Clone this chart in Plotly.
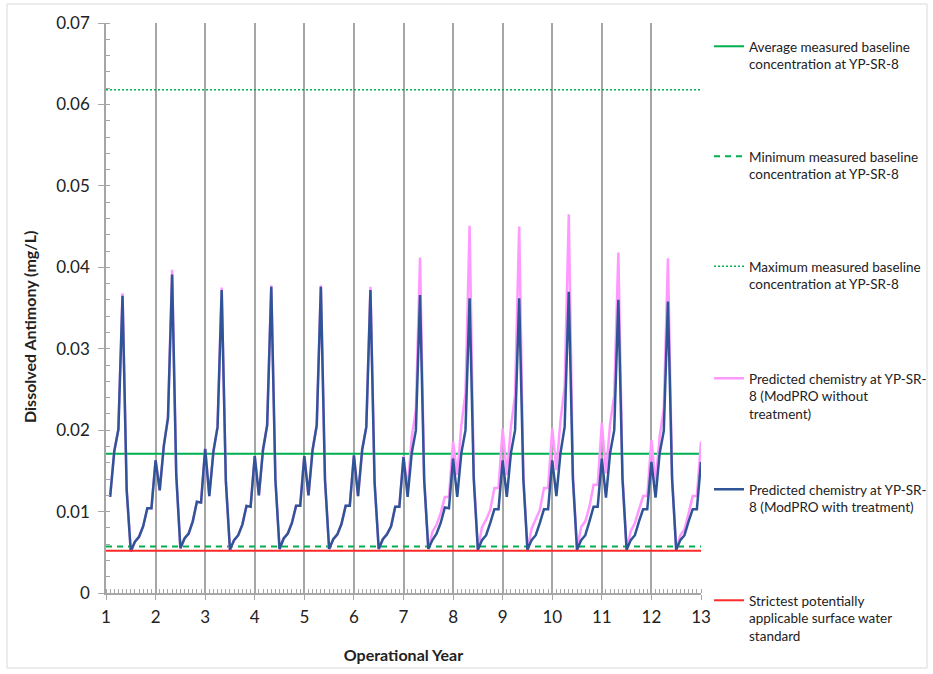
import plotly.graph_objects as go

# monthly values, 12 per operational year (x = year + month/12)
with_treatment = [
    [0.0118, 0.0174, 0.0201, 0.0365, 0.0127, 0.0051, 0.0063, 0.0069, 0.0082, 0.0104, 0.0104, 0.0163],
    [0.0126, 0.0181, 0.0215, 0.0391, 0.0145, 0.0055, 0.0067, 0.0073, 0.0088, 0.0112, 0.0111, 0.0177],
    [0.0119, 0.0174, 0.0204, 0.0372, 0.0138, 0.0053, 0.0065, 0.0071, 0.0084, 0.0107, 0.0106, 0.0168],
    [0.0120, 0.0176, 0.0206, 0.0376, 0.0139, 0.0054, 0.0067, 0.0073, 0.0086, 0.0107, 0.0107, 0.0168],
    [0.0120, 0.0176, 0.0206, 0.0376, 0.0139, 0.0054, 0.0066, 0.0072, 0.0085, 0.0107, 0.0107, 0.0169],
    [0.0119, 0.0176, 0.0204, 0.0372, 0.0136, 0.0054, 0.0066, 0.0072, 0.0082, 0.0106, 0.0106, 0.0167],
    [0.0118, 0.0172, 0.0200, 0.0366, 0.0139, 0.0054, 0.0065, 0.0073, 0.0086, 0.0105, 0.0104, 0.0165],
    [0.0118, 0.0172, 0.0200, 0.0362, 0.0140, 0.0053, 0.0065, 0.0071, 0.0086, 0.0103, 0.0103, 0.0163],
    [0.0118, 0.0172, 0.0200, 0.0362, 0.0140, 0.0053, 0.0065, 0.0071, 0.0086, 0.0103, 0.0103, 0.0163],
    [0.0119, 0.0172, 0.0204, 0.0370, 0.0140, 0.0053, 0.0065, 0.0071, 0.0088, 0.0106, 0.0106, 0.0165],
    [0.0117, 0.0172, 0.0200, 0.0360, 0.0140, 0.0053, 0.0065, 0.0071, 0.0088, 0.0103, 0.0103, 0.0161],
    [0.0117, 0.0172, 0.0199, 0.0358, 0.0140, 0.0053, 0.0065, 0.0071, 0.0088, 0.0103, 0.0103, 0.0161],
]

without_treatment = [
    [0.0118, 0.0174, 0.0201, 0.0368, 0.0127, 0.0051, 0.0063, 0.0069, 0.0082, 0.0104, 0.0104, 0.0163],
    [0.0126, 0.0181, 0.0215, 0.0397, 0.0145, 0.0055, 0.0067, 0.0073, 0.0088, 0.0112, 0.0111, 0.0177],
    [0.0119, 0.0174, 0.0204, 0.0375, 0.0138, 0.0053, 0.0065, 0.0071, 0.0084, 0.0107, 0.0106, 0.0168],
    [0.0120, 0.0176, 0.0206, 0.0378, 0.0139, 0.0054, 0.0067, 0.0073, 0.0086, 0.0107, 0.0107, 0.0168],
    [0.0120, 0.0176, 0.0206, 0.0378, 0.0139, 0.0054, 0.0066, 0.0072, 0.0085, 0.0107, 0.0107, 0.0169],
    [0.0119, 0.0176, 0.0204, 0.0376, 0.0136, 0.0054, 0.0066, 0.0072, 0.0082, 0.0106, 0.0106, 0.0168],
    [0.0128, 0.0192, 0.0225, 0.0412, 0.0142, 0.0054, 0.0075, 0.0084, 0.0098, 0.0118, 0.0118, 0.0186],
    [0.0145, 0.0206, 0.0245, 0.0451, 0.0145, 0.0053, 0.0081, 0.0090, 0.0102, 0.0129, 0.0129, 0.0202],
    [0.0145, 0.0204, 0.0243, 0.0450, 0.0145, 0.0053, 0.0079, 0.0090, 0.0102, 0.0129, 0.0129, 0.0202],
    [0.0151, 0.0212, 0.0253, 0.0465, 0.0145, 0.0053, 0.0081, 0.0088, 0.0106, 0.0133, 0.0133, 0.0209],
    [0.0147, 0.0208, 0.0243, 0.0418, 0.0145, 0.0053, 0.0076, 0.0086, 0.0102, 0.0119, 0.0119, 0.0188],
    [0.0135, 0.0192, 0.0227, 0.0411, 0.0143, 0.0053, 0.0071, 0.0078, 0.0098, 0.0119, 0.0119, 0.0186],
]

avg_baseline = 0.0171
min_baseline = 0.0057
max_baseline = 0.0618
strictest_standard = 0.0052

years = list(range(1, 14))
y_ticks = [0, 0.01, 0.02, 0.03, 0.04, 0.05, 0.06, 0.07]
y_tick_text = ["0", "0.01", "0.02", "0.03", "0.04", "0.05", "0.06", "0.07"]
first_year, last_year = years[0], years[-1]

months = [first_year + (m + 1) / 12 for m in range(12 * (len(years) - 1))]
blue = [v for yr in with_treatment for v in yr]
pink = [v for yr in without_treatment for v in yr]

labels = [
    "Average measured baseline<br>concentration at YP-SR-8",
    "Minimum measured baseline<br>concentration at YP-SR-8",
    "Maximum measured baseline<br>concentration at YP-SR-8",
    "Predicted chemistry at YP-SR-<br>8 (ModPRO without<br>treatment)",
    "Predicted chemistry at YP-SR-<br>8 (ModPRO with treatment)",
    "Strictest potentially<br>applicable surface water<br>standard",
]

GREEN = "#00B050"
PINK = "#FF99FF"
BLUE = "#2F5597"
RED = "#FF2A2A"

fig = go.Figure()
span = [first_year, last_year]

fig.add_trace(go.Scatter(x=span, y=[avg_baseline] * 2, mode="lines", name=labels[0],
                         line=dict(color=GREEN, width=2), legend="legend"))
fig.add_trace(go.Scatter(x=span, y=[min_baseline] * 2, mode="lines", name=labels[1],
                         line=dict(color=GREEN, width=2, dash="6px,5px"), legend="legend2"))
fig.add_trace(go.Scatter(x=span, y=[max_baseline] * 2, mode="lines", name=labels[2],
                         line=dict(color=GREEN, width=1.5, dash="2px,2px"), legend="legend3"))
fig.add_trace(go.Scatter(x=months, y=pink, mode="lines", name=labels[3],
                         line=dict(color=PINK, width=2.5), legend="legend4"))
fig.add_trace(go.Scatter(x=months, y=blue, mode="lines", name=labels[4],
                         line=dict(color=BLUE, width=2.5), legend="legend5"))
fig.add_trace(go.Scatter(x=span, y=[strictest_standard] * 2, mode="lines", name=labels[5],
                         line=dict(color=RED, width=2), legend="legend6"))

W, H = 933, 674
L, R, T, B = 106, 701, 23, 593


def px_x(p):
    return (p - L) / (R - L)


def px_y(p):
    return (B - p) / (B - T)


legend_font = dict(family="Lato", size=13.5, color="#222")
legend_tops = [31, 141, 251, 363, 474, 585]
legend_cfg = {}
for i, top in enumerate(legend_tops):
    key = "legend" if i == 0 else f"legend{i + 1}"
    legend_cfg[key] = dict(
        x=px_x(709), y=px_y(top), xanchor="left", yanchor="top",
        font=legend_font, bgcolor="rgba(0,0,0,0)", valign="top",
        itemwidth=30, tracegroupgap=0,
    )

axis_col = "#A6A6A6"
fig.update_layout(
    width=W, height=H,
    margin=dict(l=L, r=W - R, t=T, b=H - B, autoexpand=False),
    plot_bgcolor="white", paper_bgcolor="white",
    font=dict(family="Lato", color="#222"),
    showlegend=True,
    **legend_cfg,
    xaxis=dict(
        range=[first_year, last_year], tickmode="array", tickvals=years,
        ticktext=[str(y) for y in years],
        showgrid=True, gridcolor=axis_col, gridwidth=1.5,
        showline=True, linecolor=axis_col, linewidth=1.5,
        ticks="outside", ticklen=5, tickcolor=axis_col,
        tickfont=dict(size=17), ticklabelstandoff=3,
        minor=dict(ticks="inside", ticklen=4, tickcolor=axis_col, dtick=1 / 12, tick0=1, showgrid=False),
        zeroline=False, automargin=False,
        title=dict(text="<b>Operational Year</b>", font=dict(size=16), standoff=24),
    ),
    yaxis=dict(
        range=[0, 0.07], tickmode="array", tickvals=y_ticks, ticktext=y_tick_text,
        showgrid=False,
        showline=True, linecolor=axis_col, linewidth=1.5,
        ticks="outside", ticklen=6, tickcolor=axis_col,
        tickfont=dict(size=17), ticklabelstandoff=5,
        minor=dict(ticks="inside", ticklen=4, tickcolor=axis_col, dtick=0.002, showgrid=False),
        zeroline=False, automargin=False,
    ),
    annotations=[
        dict(text="<b>Dissolved Antimony (mg/L)</b>", textangle=-90, showarrow=False,
             xref="paper", yref="paper", x=px_x(29), y=px_y(327),
             font=dict(size=16), xanchor="center", yanchor="middle"),
    ],
    shapes=[
        dict(type="rect", xref="paper", yref="paper",
             x0=px_x(7), x1=px_x(927), y0=px_y(668), y1=px_y(4),
             line=dict(color="#D9D9D9", width=1), layer="below"),
    ],
)

# drop the browser's default body margin so the figure sits at the page origin
fig.write_html("out.html", config={"displayModeBar": False},
               post_script="document.body.style.margin='0';")
